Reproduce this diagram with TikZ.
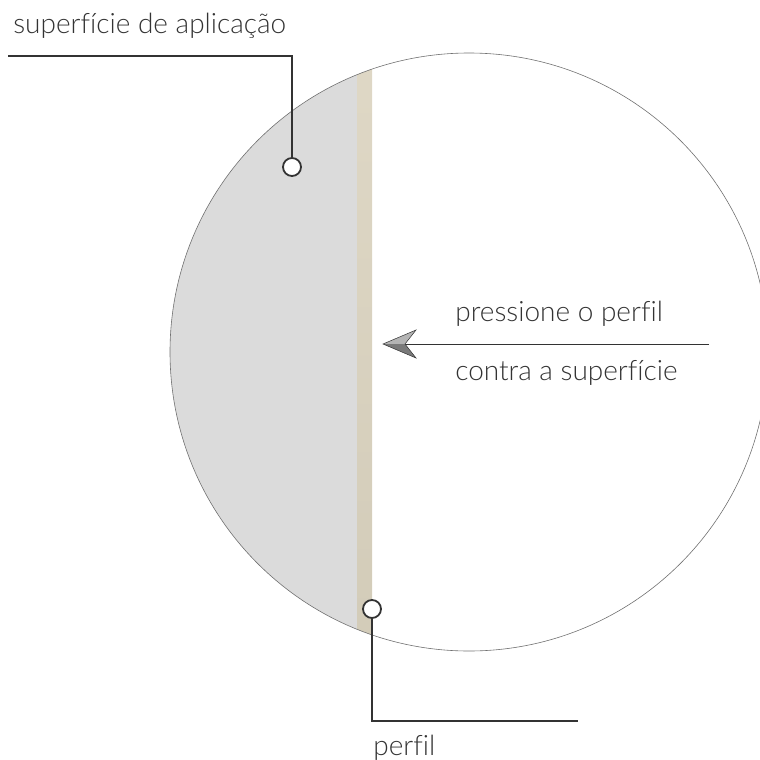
\documentclass[tikz,border=0pt]{standalone}
\usepackage{fontspec}
\setmainfont{Lato}[UprightFont={* Light},Ligatures=CommonOff]
\usetikzlibrary{positioning}

\definecolor{textgray}{HTML}{333333}
\definecolor{linegray}{HTML}{333333}
\definecolor{rimgray}{HTML}{707070}
\definecolor{wallgray}{HTML}{DBDBDB}
\definecolor{stripbeige}{HTML}{DFD8C6}
\definecolor{stripdark}{HTML}{D2CBB8}
\definecolor{headlight}{HTML}{B4B4B4}
\definecolor{headdark}{HTML}{7A7A7A}

\newcommand{\ringmark}[3]{
	\node[ringnode] (#1) at (#2, #3) {};
}

\begin{document}
\begin{tikzpicture}[x=1pt,y=-1pt,>=latex,font=\fontsize{28}{32}\selectfont,semithick,
	ringnode/.style={circle,draw=linegray,fill=white,line width=1.8pt,minimum size=18pt,inner sep=0pt},
	leader/.style={draw=linegray,line width=1.1pt},
	captiontext/.style={text=textgray,inner sep=0pt,anchor=base west}]
				\useasboundingbox (0,0) rectangle (760,760);
				% surface and profile inside the circle
				\begin{scope}
					\clip (469,352) circle (299pt);
					\fill[wallgray] (150,40) rectangle (357,670);
					\shade[top color=stripbeige,bottom color=stripdark] (357,40) rectangle (372,670);
				\end{scope}
				\draw[rimgray,line width=0.6pt] (469,352) circle (299pt);

				% push arrow
				\coordinate (pushStart) at (709,344);
				\coordinate (tip) at (383,344);
				\draw[linegray,line width=0.9pt] (pushStart) -- (404,344);
				\fill[headlight] (tip) -- ++(33,-14) -- ++(-11,14) -- cycle;
				\fill[headdark] (tip) -- ++(22,0) -- ++(11,14) -- cycle;
				\draw[linegray,line width=0.5pt,line join=miter] (tip) -- ++(33,-14) -- ++(-11,14) -- ++(11,14) -- cycle;
				\node[captiontext] (pushTop) at (455,321) {pressione o perfil};
				\node[captiontext] (pushBottom) at (455,380) {contra a superfície};

				% callouts
				\ringmark{ringTop}{292}{167}
				\ringmark{ringBottom}{372}{609}
				\coordinate (leftEnd) at (8,56);
				\coordinate (rightEnd) at (578,721);
				\draw[leader] (ringTop) -- (ringTop |- leftEnd) -- (leftEnd);
				\draw[leader] (ringBottom) -- (ringBottom |- rightEnd) -- (rightEnd);
				\node[captiontext] (surfaceLabel) at (13,34) {superfície de aplicação};
				\node[captiontext] (profileLabel) at (373,755) {perfil};
			\end{tikzpicture}
\end{document}
